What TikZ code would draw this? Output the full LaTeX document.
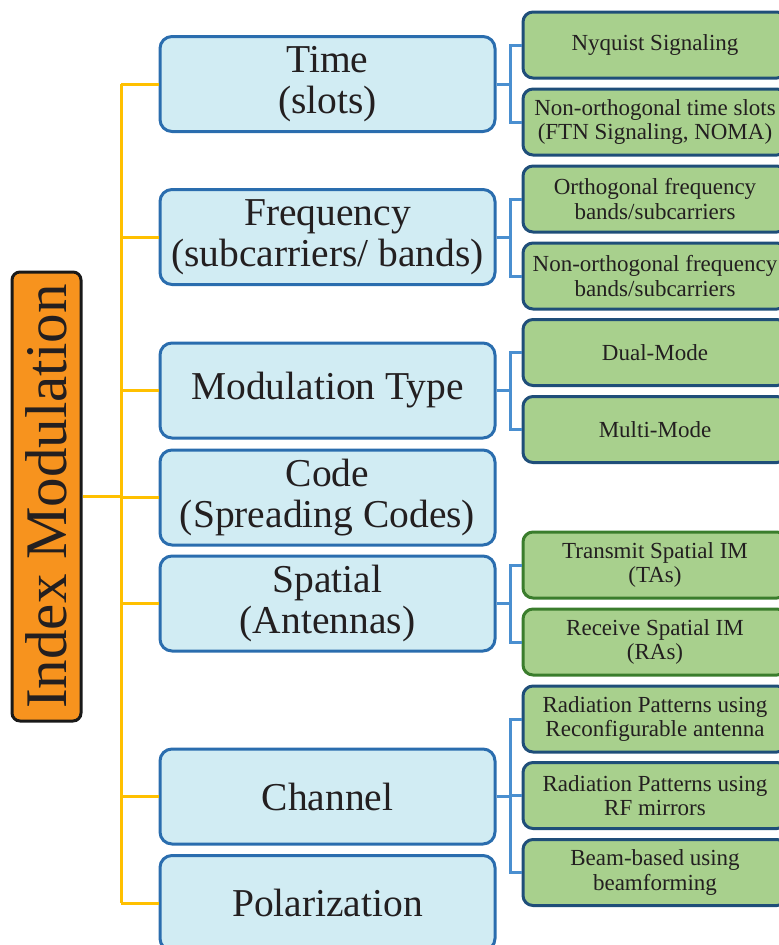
\documentclass[tikz,border=0pt]{standalone}
\usepackage{fontspec}
\setmainfont{Liberation Serif}
\usetikzlibrary{calc}

\definecolor{imorange}{HTML}{F7931E}
\definecolor{imyellow}{HTML}{FFC000}
\definecolor{imblue}{HTML}{D1ECF3}
\definecolor{imblueline}{HTML}{2A6DAE}
\definecolor{imbranch}{HTML}{4A8FD0}
\definecolor{imgreen}{HTML}{A8D08D}
\definecolor{imgreenline}{HTML}{1F4E79}
\definecolor{imdkgreen}{HTML}{3A7D2C}
\definecolor{imtext}{HTML}{231F20}

\tikzset{
  rootbox/.style={draw=black!90, line width=3pt, fill=imorange, rounded corners=8pt,
    minimum width=449pt, minimum height=69pt, inner sep=0pt, text=imtext,
    font=\fontsize{59}{61}\selectfont},
  typebox/.style={draw=imblueline, line width=3pt, fill=imblue, rounded corners=12pt,
    minimum width=335pt, minimum height=95pt, inner sep=0pt, align=center, text=imtext,
    font=\fontsize{39.5}{41}\selectfont},
  leafbox/.style={draw=imgreenline, line width=3pt, fill=imgreen, rounded corners=10pt,
    minimum width=264pt, minimum height=66pt, inner sep=0pt, align=center, text=imtext,
    font=\fontsize{23}{24.5}\selectfont},
  ybranch/.style={draw=imyellow, line width=3pt},
  bbranch/.style={draw=imbranch, line width=3pt}
}

\begin{document}
\begin{tikzpicture}[x=1pt,y=-1pt]
\useasboundingbox (0,0) rectangle (779,945);
\clip (0,0) rectangle (779,945);

\node[rootbox, rotate=90] (im) at (46.5,496.5) {Index Modulation};

\node[typebox] (time) at (327.5,84) {Time\\(slots)};
\node[typebox] (freq) at (327.5,237) {Frequency\\(subcarriers/ bands)};
\node[typebox] (mod) at (327.5,390.5) {Modulation Type};
\node[typebox] (code) at (327.5,497.5) {Code\\(Spreading Codes)};
\node[typebox] (spat) at (327.5,603.5) {Spatial\\(Antennas)};
\node[typebox] (chan) at (327.5,796.5) {Channel};
\node[typebox] (pol) at (327.5,903) {Polarization};

\node[leafbox] (nyq) at (655,45) {Nyquist Signaling};
\node[leafbox] (nots) at (655,122) {Non-orthogonal time slots\\(FTN Signaling, NOMA)};
\node[leafbox] (ofb) at (655,199) {Orthogonal frequency\\bands/subcarriers};
\node[leafbox] (nofb) at (655,276) {Non-orthogonal frequency\\bands/subcarriers};
\node[leafbox] (dual) at (655,352.5) {Dual-Mode};
\node[leafbox] (multi) at (655,429.5) {Multi-Mode};
\node[leafbox, draw=imdkgreen] (tsim) at (655,565) {Transmit Spatial IM\\(TAs)};
\node[leafbox, draw=imdkgreen] (rsim) at (655,642) {Receive Spatial IM\\(RAs)};
\node[leafbox] (rpra) at (655,719) {Radiation Patterns using\\Reconfigurable antenna};
\node[leafbox] (rprf) at (655,795.5) {Radiation Patterns using\\RF mirrors};
\node[leafbox] (bbf) at (655,872.5) {Beam-based using\\beamforming};

% trunk from the root
\coordinate (tr) at (121,0);
\draw[ybranch] (im.south) -- (tr |- im.south);
\draw[ybranch] (tr |- time.west) -- (tr |- pol.west);
\foreach \t in {time,freq,mod,code,spat,chan,pol}
  \draw[ybranch] (tr |- \t.west) -- (\t.west);

% branches to the leaves
\coordinate (br) at (510,0);
\foreach \p/\l in {time/nyq,time/nots,freq/ofb,freq/nofb,mod/dual,mod/multi,
                   spat/tsim,spat/rsim,chan/rpra,chan/rprf,chan/bbf}
  \draw[bbranch] (\p.east) -- (br |- \p.east) -- (br |- \l.west) -- (\l.west);
\end{tikzpicture}
\end{document}
